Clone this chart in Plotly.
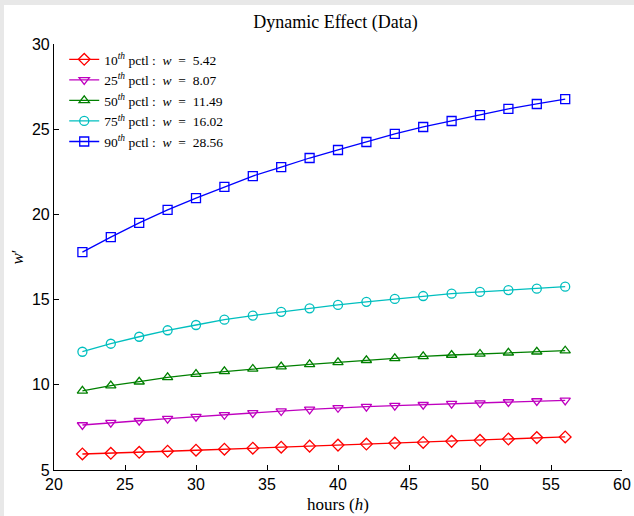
import plotly.graph_objects as go

hours = [22, 24, 26, 28, 30, 32, 34, 36, 38, 40, 42, 44, 46, 48, 50, 52, 54, 56]
p10 = [5.94, 5.98, 6.04, 6.10, 6.16, 6.22, 6.28, 6.34, 6.40, 6.46, 6.52, 6.58, 6.62, 6.68, 6.74, 6.82, 6.90, 6.94]
p25 = [7.64, 7.78, 7.89, 8.01, 8.13, 8.24, 8.35, 8.46, 8.56, 8.65, 8.72, 8.78, 8.83, 8.89, 8.93, 8.99, 9.05, 9.09]
p50 = [9.64, 9.95, 10.18, 10.44, 10.63, 10.79, 10.93, 11.07, 11.20, 11.32, 11.44, 11.55, 11.67, 11.75, 11.81, 11.88, 11.94, 12.00]
p75 = [11.94, 12.41, 12.82, 13.20, 13.51, 13.82, 14.06, 14.28, 14.49, 14.69, 14.87, 15.04, 15.21, 15.35, 15.45, 15.56, 15.64, 15.76]
p90 = [17.79, 18.67, 19.50, 20.26, 20.96, 21.61, 22.25, 22.78, 23.31, 23.78, 24.25, 24.72, 25.13, 25.48, 25.83, 26.19, 26.48, 26.77]

pctls = ["10", "25", "50", "75", "90"]
wvals = ["5.42", "8.07", "11.49", "16.02", "28.56"]
series = [p10, p25, p50, p75, p90]
colors = ["#ff0000", "#bf00bf", "#008000", "#00bfbf", "#0000ff"]
symbols = ["diamond-open", "triangle-down-open", "triangle-up-open", "circle-open", "square-open"]

fig = go.Figure()
for pc, wv, ys, c, s in zip(pctls, wvals, series, colors, symbols):
    fig.add_trace(go.Scatter(
        x=hours, y=ys, mode="lines+markers",
        name=f"{pc}<sup><i>th</i></sup>&nbsp;pctl&nbsp;:&nbsp;&nbsp;<i>w</i>&nbsp;&nbsp;=&nbsp;&nbsp;{wv}",
        line=dict(color=c, width=1.3),
        marker=dict(symbol=s, size=9, color=c, line=dict(color=c, width=1.3)),
    ))

serif = "Liberation Serif"
sans = "Liberation Sans"

fig.update_layout(
    width=634, height=516,
    margin=dict(l=54, r=12, t=44, b=46),
    paper_bgcolor="#e8e8e8",
    plot_bgcolor="white",
    shapes=[dict(type="rect", xref="paper", yref="paper",
                 x0=(4 - 54) / 568, x1=(640 - 54) / 568,
                 y0=(470 - 520) / 426, y1=(470 - 5) / 426,
                 fillcolor="white", line=dict(width=0), layer="below")],
    title=dict(text="Dynamic Effect (Data)", x=335.5 / 634, xanchor="center",
               y=1 - 22 / 516, yanchor="middle",
               font=dict(family=serif, size=18, color="black")),
    showlegend=True,
    legend=dict(x=0.018, y=1.0, xanchor="left", yanchor="top",
                bgcolor="rgba(255,255,255,0)", borderwidth=0,
                font=dict(family=serif, size=13.5, color="black"),
                tracegroupgap=0, itemwidth=30),
    xaxis=dict(range=[20, 60], tickvals=[20, 25, 30, 35, 40, 45, 50, 55, 60],
               showline=True, linecolor="black", linewidth=1.2, mirror=False,
               ticks="inside", ticklen=5, tickcolor="black", tickwidth=1.2,
               showgrid=False, zeroline=False, automargin=False,
               tickfont=dict(family=sans, size=16, color="black"),
               title=dict(text="hours (<i>h</i>)", standoff=5,
                          font=dict(family=serif, size=17, color="black"))),
    yaxis=dict(range=[5, 30], tickvals=[5, 10, 15, 20, 25, 30],
               showline=True, linecolor="black", linewidth=1.2, mirror=False,
               ticks="inside", ticklen=5, tickcolor="black", tickwidth=1.2,
               showgrid=False, zeroline=False, automargin=False,
               tickfont=dict(family=sans, size=16, color="black"),
               title=dict(text="<i>w</i>′", standoff=3,
                          font=dict(family=serif, size=17, color="black"))),
)

fig.write_html("out.html", config={"displayModeBar": False},
               post_script="document.body.style.margin='0';")
